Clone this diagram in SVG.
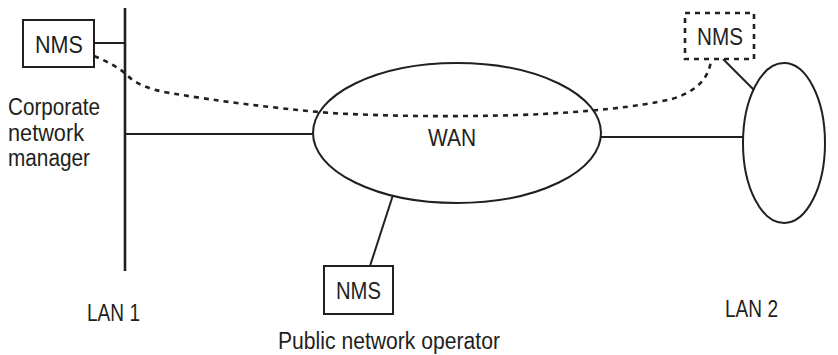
<svg xmlns="http://www.w3.org/2000/svg" width="838" height="355" viewBox="0 0 838 355">
<style>
.ln{stroke:#231f20;stroke-width:2;fill:none}
.bus{stroke:#231f20;stroke-width:2.6;fill:none}
.dash{stroke:#231f20;stroke-width:2.6;fill:none;stroke-dasharray:5 5}
.box{stroke:#231f20;stroke-width:2;fill:#fff}
.dbox{stroke:#231f20;stroke-width:2.6;fill:#fff;stroke-dasharray:5 5}
text{font-family:"Liberation Sans",Arial,sans-serif;font-size:23px;fill:#231f20}
</style>
<rect width="838" height="355" fill="#fff"/>
<g id="connectors">
<line class="ln" x1="94" y1="43" x2="125" y2="43"/>
<line class="ln" x1="125" y1="134" x2="313" y2="134"/>
<line class="ln" x1="601" y1="137" x2="743" y2="137"/>
<line class="ln" x1="723" y1="59" x2="754" y2="90"/>
<line class="ln" x1="370" y1="266" x2="393" y2="195"/>
<path class="dash" d="M94,56 Q118,66 128,76 Q140,88 170,93 Q240,105 330,113 Q420,118 520,115 Q620,111 672,99 Q708,88 711,60"/>
</g>
<g id="lan1">
<line class="bus" x1="125" y1="8" x2="125" y2="271"/>
<text x="87" y="321" textLength="53" lengthAdjust="spacingAndGlyphs">LAN 1</text>
</g>
<g id="nms-corporate">
<rect class="box" x="23" y="20" width="71" height="47"/>
<text x="35" y="53" textLength="48" lengthAdjust="spacingAndGlyphs">NMS</text>
<text x="8" y="115" textLength="92" lengthAdjust="spacingAndGlyphs">Corporate</text>
<text x="8" y="141" textLength="76" lengthAdjust="spacingAndGlyphs">network</text>
<text x="8" y="166" textLength="82" lengthAdjust="spacingAndGlyphs">manager</text>
</g>
<g id="wan">
<ellipse class="ln" cx="457" cy="133" rx="144" ry="70"/>
<text x="428" y="146" textLength="48" lengthAdjust="spacingAndGlyphs">WAN</text>
</g>
<g id="lan2">
<ellipse class="ln" cx="784" cy="143" rx="41" ry="80"/>
<text x="725" y="317" textLength="53" lengthAdjust="spacingAndGlyphs">LAN 2</text>
</g>
<g id="nms-lan2">
<rect class="dbox" x="685" y="13" width="69" height="46"/>
<text x="697" y="45" textLength="46" lengthAdjust="spacingAndGlyphs">NMS</text>
</g>
<g id="nms-public">
<rect class="box" x="324" y="266" width="69" height="48"/>
<text x="336" y="299" textLength="45" lengthAdjust="spacingAndGlyphs">NMS</text>
<text x="278" y="349" textLength="222" lengthAdjust="spacingAndGlyphs">Public network operator</text>
</g>
</svg>
